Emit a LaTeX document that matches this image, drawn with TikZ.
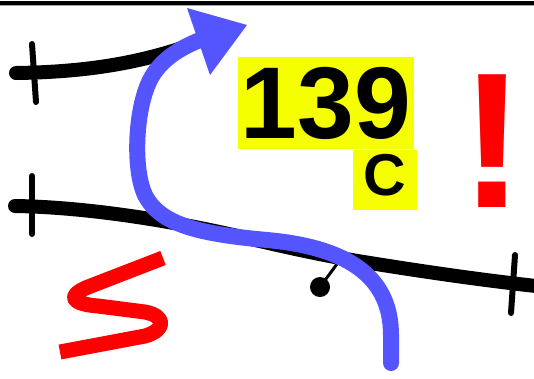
\documentclass[tikz,border=0pt]{standalone}
\usepackage{fontspec}
\setmainfont{Liberation Sans}
\definecolor{flowblue}{RGB}{85,85,255}
\definecolor{labelyellow}{RGB}{245,255,0}
\begin{document}
\begin{tikzpicture}[x=1pt,y=-1pt,
  front/.style={line width=14pt, line cap=round},
  tickmark/.style={line width=6pt, line cap=round},
  flow/.style={draw=flowblue, line width=16pt, line cap=round},
  labelbox/.style={fill=labelyellow, inner sep=0pt, text=black}]
\useasboundingbox (0,0) rectangle (534,378);
% top rule
\draw[line width=4pt] (0,3) -- (534,3);
\draw[black!35, line width=1pt] (0,5.5) -- (534,5.5);
% upper front
\draw[front] (16,73) .. controls (90,72) and (140,62) .. (185,47);
\draw[tickmark] (32,44) -- (36,102);
% lower front
\draw[front] (15,206) .. controls (80,207) and (150,218) .. (200,228) .. controls (260,240) and (300,252) .. (370,263) .. controls (420,271) and (480,280) .. (545,287);
\draw[tickmark] (32,176) -- (32,234);
\draw[tickmark] (515,255) -- (511,313);
% pin
\draw[line width=3pt] (320,287) -- (337,264);
\fill (320,287) circle[radius=10];
% blue flow arrow
\draw[flow] (391,363) -- (391,335) .. controls (391,275) and (345,247) .. (267,240) .. controls (200,234) and (160,225) .. (145,195) .. controls (133,170) and (135,110) .. (150,80) .. controls (160,60) and (180,48) .. (200,40);
\fill[flowblue] (247,25) -- (187,8) -- (210,75) -- cycle;
% red S stroke
\draw[red, line width=15pt, line join=round] (163,258) -- (88,287) .. controls (66,296) and (72,304) .. (98,306) -- (145,312) .. controls (166,316) and (166,330) .. (145,336) -- (60,352);
% labels
\node[labelbox, minimum width=176pt, minimum height=92pt, font=\bfseries\fontsize{102}{102}\selectfont] (num) at (326,103) {139};
\node[labelbox, minimum width=64pt, minimum height=60pt, text depth=9pt, font=\bfseries\fontsize{59}{59}\selectfont] (cls) at (385,179.5) {C};
\node[text=red, inner sep=0pt, font=\bfseries\fontsize{193}{193}\selectfont] (excl) at (493,141) {!};
\end{tikzpicture}
\end{document}
